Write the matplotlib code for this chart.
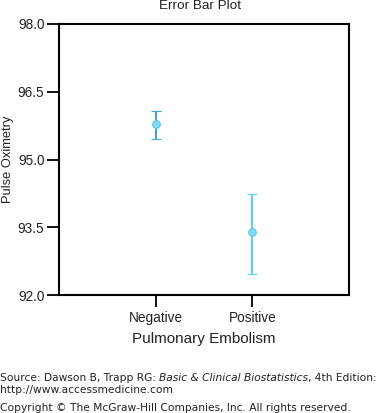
import matplotlib.pyplot as plt
import numpy as np

groups = ['Negative', 'Positive']
means = [95.79, 93.39]
upper = [96.07, 94.24]
lower = [95.45, 92.46]
bar_colors = ['#3fa6cf', '#5dd0f2']

plt.rcParams['font.family'] = ['Liberation Sans', 'DejaVu Sans']

fig = plt.figure(figsize=(3.81, 4.13), dpi=100)
ax = fig.add_axes([0.1549, 0.2857, 0.7612, 0.6562])

x = np.arange(len(groups)) + 1
for i in range(len(groups)):
    err = [[means[i] - lower[i]], [upper[i] - means[i]]]
    ax.errorbar(x[i], means[i], yerr=err, fmt='o', color=bar_colors[i],
                ecolor=bar_colors[i], elinewidth=1.5, capsize=3.5, capthick=1.5,
                markersize=5.5, markerfacecolor='#86d9f2',
                markeredgecolor='#5cc6ea', markeredgewidth=0.8)

ax.set_xlim(0, 3)
ax.set_ylim(92, 98)
ax.set_yticks([92.0, 93.5, 95.0, 96.5, 98.0])
ax.set_yticklabels(['92.0', '93.5', '95.0', '96.5', '98.0'])
ax.set_xticks(x)
ax.set_xticklabels(groups)
ax.tick_params(axis='both', direction='out', length=8.5, width=1.3, labelsize=9.8,
               color='black', labelcolor='#222222')
ax.tick_params(axis='x', pad=3)
ax.tick_params(axis='y', pad=2)
for s in ax.spines.values():
    s.set_linewidth(1.5)

ax.set_xlabel('Pulmonary Embolism', fontsize=11, color='#222222')
ax.xaxis.set_label_coords(0.5, -0.137)
ax.set_ylabel('Pulse Oximetry', fontsize=9.3, color='#222222')
ax.yaxis.set_label_coords(-0.155, 0.5)
fig.text(0.525, 0.985, 'Error Bar Plot', ha='center', va='center', fontsize=9.7, color='#222222')

fs = 7.7
t1 = fig.text(0.0, 1 - 381 / 413, 'Source: Dawson B, Trapp RG: ', fontsize=fs,
              family='DejaVu Sans', color='#222222', va='baseline')
t2 = ax.annotate('Basic & Clinical Biostatistics', xy=(1, 0), xycoords=t1,
                 fontsize=fs, family='DejaVu Sans', style='italic', color='#222222',
                 va='bottom', annotation_clip=False)
ax.annotate(', 4th Edition:', xy=(1, 0), xycoords=t2, fontsize=fs,
            family='DejaVu Sans', color='#222222', va='bottom', annotation_clip=False)
fig.text(0.0, 1 - 393 / 413, 'http://www.accessmedicine.com', fontsize=fs,
         family='DejaVu Sans', color='#222222', va='baseline')
fig.text(0.0, 1 - 411 / 413, 'Copyright \u00a9 The McGraw-Hill Companies, Inc. All rights reserved.',
         fontsize=fs, family='DejaVu Sans', color='#222222', va='baseline')

fig.savefig('out.png', dpi=100)
